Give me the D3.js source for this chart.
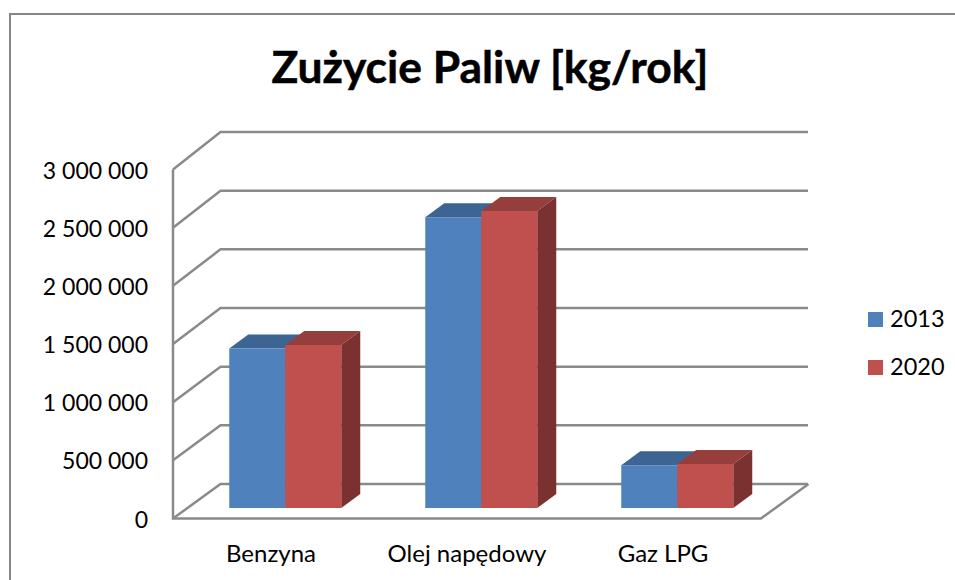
<!DOCTYPE html>
<html><head><meta charset="utf-8">
<script src="https://cdn.jsdelivr.net/npm/d3@7/dist/d3.min.js"></script>
<style>html,body{margin:0;padding:0;background:#fff}svg{display:block}text{font-family:Lato,"Open Sans",sans-serif;fill:#000}</style>
</head><body><svg id="c" width="955" height="580"></svg>
<script>
const title = "Zużycie Paliw [kg/rok]";
const categories = ["Benzyna", "Olej napędowy", "Gaz LPG"];
const seriesNames = ["2013", "2020"];
const values2013 = [1370000, 2500000, 368000];
const values2020 = [1402000, 2553000, 378000];
const yTicks = [0, 500000, 1000000, 1500000, 2000000, 2500000, 3000000];
const colors = {front:["#4f81bd","#c0504d"], top:["#3d6593","#953e3c"], side:["#2f4e72","#7b3130"]};
const grid = "#8a8a8a";

const svg = d3.select("#c");
const x = d3.scaleBand().domain(categories).range([173, 761]);
const y = d3.scaleLinear().domain([0, 3000000]).range([518.5, 169.5]);
const yBack = d3.scaleLinear().domain([0, 3000000]).range([484, 132]);
const dep = {dx:47.5, dy:-35};
const proj = (px, py, d) => [px + dep.dx*d, py + dep.dy*d];
const fmt = v => d3.format(",")(v).replace(/,/g, " ");

// frame
svg.append("path").attr("d","M10,580V14H955").attr("fill","none").attr("stroke","#868686").attr("stroke-width",2);

// title
svg.append("text").attr("x",490).attr("y",83).attr("text-anchor","middle")
  .attr("font-size",44.4).attr("font-weight",700).attr("stroke","#000").attr("stroke-width",0.5).text(title);

// wall gridlines
const g = svg.append("g").attr("fill","none").attr("stroke",grid).attr("stroke-width",2.5);
yTicks.forEach(t=>{
  const bx=173+dep.dx;
  g.append("path").attr("d",`M173,${y(t)}L${bx},${yBack(t)}H${bx+587.5}`);
});
g.append("path").attr("d",`M173,${y(3000000)}V${y(0)}H761L${761+dep.dx},${yBack(0)}`);

// bars
const barD0=0.3, barD=0.4;
const barW=56;
const bars=svg.append("g");
const poly=(pts,fill)=>bars.append("polygon").attr("points",pts.map(p=>p.join(",")).join(" ")).attr("fill",fill);
const series=[values2013,values2020];
categories.forEach((c,i)=>{
  const cx=x(c)+x.bandwidth()/2;
  series.forEach((vals,s)=>{
    const x0=cx+(s-1)*barW, x1=x0+barW, yT=y(vals[i]), yB=y(0);
    const a=proj(x0,yT,barD0), b=proj(x1,yT,barD0), e=proj(x1,yB,barD0);
    const tr=[b[0]+dep.dx*barD,b[1]+dep.dy*barD], tl=[a[0]+dep.dx*barD,a[1]+dep.dy*barD], br=[e[0]+dep.dx*barD,e[1]+dep.dy*barD];
    poly([a,tl,tr,b],colors.top[s]);
    poly([b,tr,br,e],colors.side[s]);
  });
  series.forEach((vals,s)=>{
    const x0=cx+(s-1)*barW, x1=x0+barW, yT=y(vals[i]), yB=y(0);
    poly([proj(x0,yT,barD0),proj(x1,yT,barD0),proj(x1,yB,barD0),proj(x0,yB,barD0)],colors.front[s]);
  });
});

// y labels
svg.append("g").selectAll("text").data(yTicks).join("text")
  .attr("x",148).attr("y",d=>y(d)+9).attr("text-anchor","end").attr("font-size",23).text(fmt);
// x labels
svg.append("g").selectAll("text").data(categories).join("text")
  .attr("x",d=>x(d)+x.bandwidth()/2).attr("y",562).attr("text-anchor","middle").attr("font-size",24).text(d=>d);

// legend
const lg=svg.append("g");
seriesNames.forEach((n,i)=>{
  lg.append("rect").attr("x",868).attr("y",312+48*i).attr("width",15).attr("height",15).attr("fill",colors.front[i]);
  lg.append("text").attr("x",890).attr("y",327+48*i).attr("font-size",23.5).text(n);
});
</script></body></html>
